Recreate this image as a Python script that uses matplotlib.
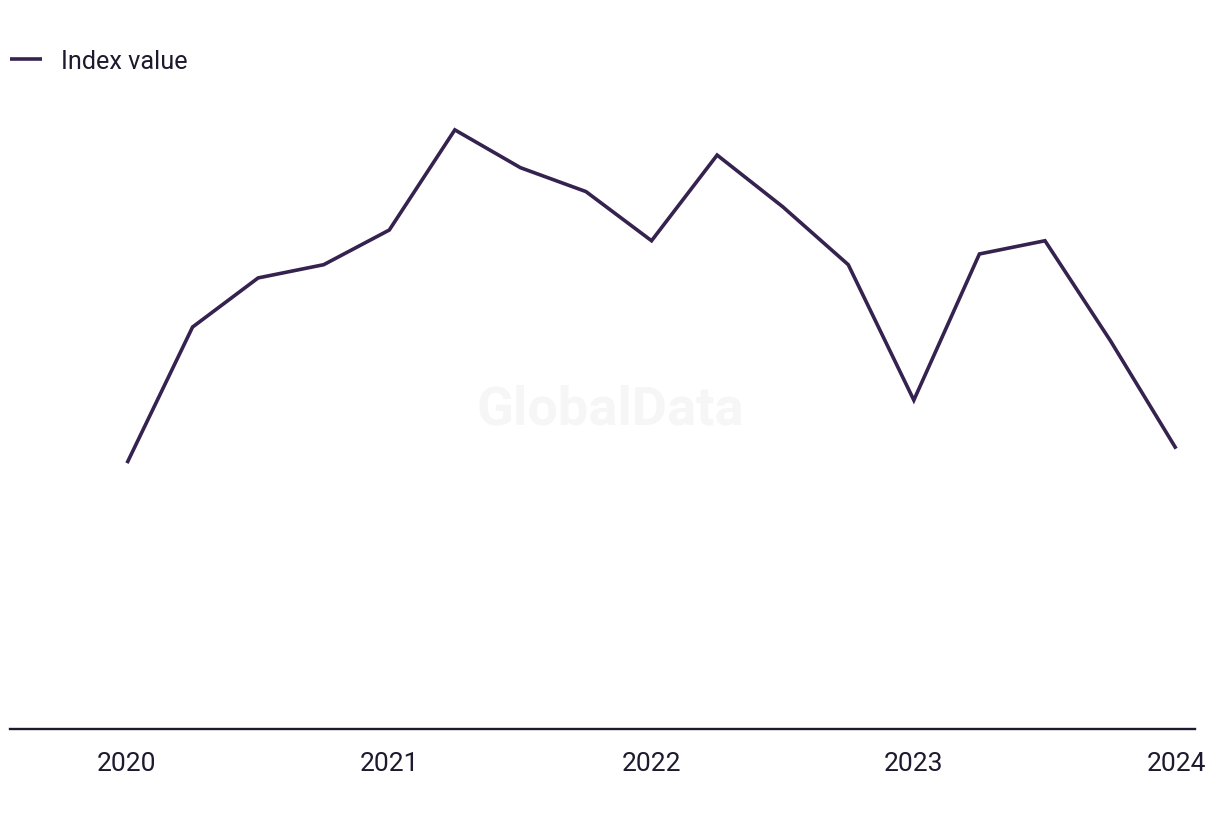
import matplotlib.pyplot as plt

# quarterly index values, 2020 Q1 - 2024 Q1
years = [2020, 2020, 2020, 2020, 2021, 2021, 2021, 2021, 2022, 2022, 2022, 2022,
         2023, 2023, 2023, 2023, 2024]
quarters = [1, 2, 3, 4, 1, 2, 3, 4, 1, 2, 3, 4, 1, 2, 3, 4, 1]
index_value = [42.5, 64.1, 71.9, 74.0, 79.5, 95.4, 89.4, 85.6, 77.8, 91.4, 83.2,
               74.0, 52.5, 75.7, 77.8, 61.9, 44.8]
tick_years = [2020, 2021, 2022, 2023, 2024]

x = [y + (q - 1) * 0.25 for y, q in zip(years, quarters)]

plt.rcParams['font.family'] = ['Roboto', 'DejaVu Sans']
line_color = '#35224f'
text_color = '#1c1a2e'

fig = plt.figure(figsize=(12.2, 8.2), dpi=100)
ax = fig.add_axes([10 / 1220, 1 - 730 / 820, 1185 / 1220, 630 / 820])

ax.plot(x, index_value, color=line_color, lw=2.6, label='Index value',
        solid_joinstyle='miter', solid_capstyle='butt')

ax.set_xlim(2019.554, 2024.072)
ax.set_ylim(0.3, 100.3)
ax.set_xticks(tick_years)
ax.set_xticklabels([str(t) for t in tick_years])
ax.tick_params(axis='x', length=0, pad=16, labelsize=19, labelcolor=text_color)
ax.set_yticks([])
for side in ['top', 'right', 'left']:
    ax.spines[side].set_visible(False)
ax.spines['bottom'].set_color(text_color)
ax.spines['bottom'].set_linewidth(1.7)

# watermark
fig.text(610 / 1220, 1 - 410 / 820, 'GlobalData', fontsize=39, fontweight='bold',
         color='#f6f6f6', ha='center', va='center', zorder=0)

fig.legend(loc='center left', bbox_to_anchor=(-0.004, 1 - 62 / 820), frameon=False,
           fontsize=18.2, labelcolor=text_color, handlelength=1.25, handletextpad=0.75,
           borderaxespad=0.2)

fig.savefig('out.png', dpi=100, facecolor='white')
